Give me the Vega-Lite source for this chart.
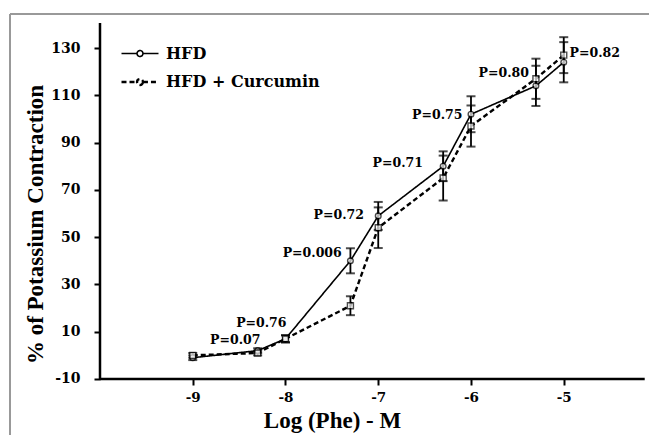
{
  "$schema": "https://vega.github.io/schema/vega-lite/v6.json",
  "width": 639,
  "height": 421,
  "autosize": {"type": "none"},
  "padding": {"left": 10, "top": 14, "right": 0, "bottom": 0},
  "background": "white",
  "config": {"view": {"stroke": null}},
  "datasets": {
    "series": [
      {"logdose": -9, "group": "HFD", "mean": -1, "sd": 1},
      {"logdose": -8.3, "group": "HFD", "mean": 2, "sd": 1},
      {"logdose": -8, "group": "HFD", "mean": 7, "sd": 1.5},
      {"logdose": -7.3, "group": "HFD", "mean": 40, "sd": 5.3},
      {"logdose": -7, "group": "HFD", "mean": 59, "sd": 5.9},
      {"logdose": -6.3, "group": "HFD", "mean": 80, "sd": 6.3},
      {"logdose": -6, "group": "HFD", "mean": 102, "sd": 7.6},
      {"logdose": -5.3, "group": "HFD", "mean": 114, "sd": 8.5},
      {"logdose": -5, "group": "HFD", "mean": 124, "sd": 8.5},
      {"logdose": -9, "group": "HFD + Curcumin", "mean": 0, "sd": 1},
      {"logdose": -8.3, "group": "HFD + Curcumin", "mean": 1, "sd": 1},
      {"logdose": -8, "group": "HFD + Curcumin", "mean": 7, "sd": 1.5},
      {"logdose": -7.3, "group": "HFD + Curcumin", "mean": 21, "sd": 4},
      {"logdose": -7, "group": "HFD + Curcumin", "mean": 54, "sd": 8.6},
      {"logdose": -6.3, "group": "HFD + Curcumin", "mean": 75, "sd": 9.5},
      {"logdose": -6, "group": "HFD + Curcumin", "mean": 97, "sd": 8.7},
      {"logdose": -5.3, "group": "HFD + Curcumin", "mean": 117, "sd": 8.5},
      {"logdose": -5, "group": "HFD + Curcumin", "mean": 127, "sd": 7.6}
    ],
    "plabels": [
      {"label": "P=0.07", "lx": -8.542, "ly": 6.5},
      {"label": "P=0.76", "lx": -8.261, "ly": 13.7},
      {"label": "P=0.006", "lx": -7.712, "ly": 43.3},
      {"label": "P=0.72", "lx": -7.426, "ly": 59.4},
      {"label": "P=0.71", "lx": -6.79, "ly": 81.4},
      {"label": "P=0.75", "lx": -6.364, "ly": 101.7},
      {"label": "P=0.80", "lx": -5.647, "ly": 119.5},
      {"label": "P=0.82", "lx": -4.666, "ly": 127.9}
    ]
  },
  "layer": [
    {
      "data": {"name": "series"},
      "mark": {"type": "line", "color": "black"},
      "encoding": {
        "x": {
          "field": "logdose", "type": "quantitative", "title": "Log (Phe) - M",
          "scale": {"domain": [-10.9703, -4.0808], "nice": false, "zero": false},
          "axis": {
            "values": [-9, -8, -7, -6, -5], "offset": -56, "domain": false, "grid": false,
            "tickSize": 6, "tickWidth": 2, "tickColor": "black",
            "labelFont": "DejaVu Serif", "labelFontWeight": "bold", "labelFontSize": 13.5, "labelColor": "black",
            "labelPadding": 5, "labelExpr": "'' + datum.value",
            "titleFont": "Liberation Serif", "titleFontSize": 23, "titleFontWeight": "bold", "titleColor": "black",
            "titleX": 322, "titleY": 48, "titleBaseline": "alphabetic", "titleAlign": "center"
          }
        },
        "y": {
          "field": "mean", "type": "quantitative", "title": "% of Potassium Contraction",
          "scale": {"domain": [-33.69, 144.4], "nice": false, "zero": false},
          "axis": {
            "values": [-10, 10, 30, 50, 70, 90, 110, 130], "offset": -90, "domain": false, "grid": false,
            "tickSize": 6, "tickWidth": 2, "tickColor": "black",
            "labelFont": "DejaVu Serif", "labelFontWeight": "bold", "labelFontSize": 14, "labelColor": "black",
            "labelPadding": 14, "labelExpr": "'' + datum.value",
            "titleFont": "Liberation Serif", "titleFontSize": 23, "titleFontWeight": "bold", "titleColor": "black",
            "titleX": -58, "titleY": 210, "titleBaseline": "alphabetic", "titleAlign": "center", "titleAngle": -90
          }
        },
        "strokeDash": {
          "field": "group", "type": "nominal",
          "scale": {"domain": ["HFD", "HFD + Curcumin"], "range": [[1, 0], [5, 3]]},
          "legend": {
            "orient": "none", "legendX": 110, "legendY": 20, "title": null, "padding": 0,
            "symbolType": "M-1,0H-0.16M0.16,0H1M0.16,0A0.16,0.16,0,1,1,-0.16,0A0.16,0.16,0,1,1,0.16,0",
            "symbolSize": 1369, "symbolStrokeColor": "black", "symbolStrokeWidth": 2, "symbolFillColor": "transparent",
            "labelFont": "DejaVu Serif", "labelFontWeight": "bold", "labelFontSize": 16, "labelColor": "black",
            "labelOffset": 6, "rowPadding": -9
          }
        },
        "strokeWidth": {
          "field": "group", "type": "nominal",
          "scale": {"domain": ["HFD", "HFD + Curcumin"], "range": [1.6, 2.4]},
          "legend": null
        }
      }
    },
    {
      "data": {"name": "series"},
      "mark": {"type": "errorbar", "color": "black", "ticks": {"size": 9, "thickness": 2, "color": "black"}, "rule": {"strokeWidth": 1.8, "color": "black"}},
      "encoding": {
        "x": {"field": "logdose", "type": "quantitative", "title": "Log (Phe) - M"},
        "y": {"field": "mean", "type": "quantitative", "title": "% of Potassium Contraction"},
        "yError": {"field": "sd"}
      }
    },
    {
      "data": {"name": "series"},
      "transform": [{"filter": "datum.group === 'HFD'"}],
      "mark": {"type": "point", "shape": "circle", "filled": true, "fill": "white", "stroke": "black", "strokeWidth": 1.4, "size": 32},
      "encoding": {
        "x": {"field": "logdose", "type": "quantitative", "title": "Log (Phe) - M"},
        "y": {"field": "mean", "type": "quantitative", "title": "% of Potassium Contraction"}
      }
    },
    {
      "data": {"name": "series"},
      "transform": [{"filter": "datum.group === 'HFD + Curcumin'"}],
      "mark": {"type": "point", "shape": "square", "filled": true, "fill": "white", "stroke": "black", "strokeWidth": 1.4, "size": 36},
      "encoding": {
        "x": {"field": "logdose", "type": "quantitative", "title": "Log (Phe) - M"},
        "y": {"field": "mean", "type": "quantitative", "title": "% of Potassium Contraction"}
      }
    },
    {
      "data": {"name": "plabels"},
      "mark": {"type": "text", "font": "DejaVu Serif", "fontWeight": "bold", "fontSize": 12.5, "align": "center", "baseline": "middle", "color": "black"},
      "encoding": {
        "x": {"field": "lx", "type": "quantitative", "title": "Log (Phe) - M"},
        "y": {"field": "ly", "type": "quantitative", "title": "% of Potassium Contraction"},
        "text": {"field": "label", "type": "nominal"}
      }
    },
    {
      "data": {"values": [{}]},
      "mark": {"type": "rule", "color": "black", "strokeWidth": 2.5},
      "encoding": {
        "x": {"datum": -10, "type": "quantitative", "title": "Log (Phe) - M"},
        "y": {"datum": -10, "type": "quantitative", "title": "% of Potassium Contraction"},
        "y2": {"datum": 140.6}
      }
    },
    {
      "data": {"values": [{}]},
      "mark": {"type": "rule", "color": "black", "strokeWidth": 2.5},
      "encoding": {
        "x": {"datum": -10, "type": "quantitative", "title": "Log (Phe) - M"},
        "x2": {"datum": -4.127},
        "y": {"datum": -10, "type": "quantitative", "title": "% of Potassium Contraction"}
      }
    },
    {
      "data": {"values": [{}]},
      "mark": {"type": "rule", "color": "#999999", "strokeWidth": 2},
      "encoding": {
        "x": {"datum": -10.9703, "type": "quantitative", "title": "Log (Phe) - M"},
        "y": {"datum": -33.69, "type": "quantitative", "title": "% of Potassium Contraction"},
        "y2": {"datum": 144.4}
      }
    },
    {
      "data": {"values": [{}]},
      "mark": {"type": "rule", "color": "#999999", "strokeWidth": 2},
      "encoding": {
        "x": {"datum": -10.9703, "type": "quantitative", "title": "Log (Phe) - M"},
        "x2": {"datum": -4.0808},
        "y": {"datum": 144.4, "type": "quantitative", "title": "% of Potassium Contraction"}
      }
    }
  ]
}
